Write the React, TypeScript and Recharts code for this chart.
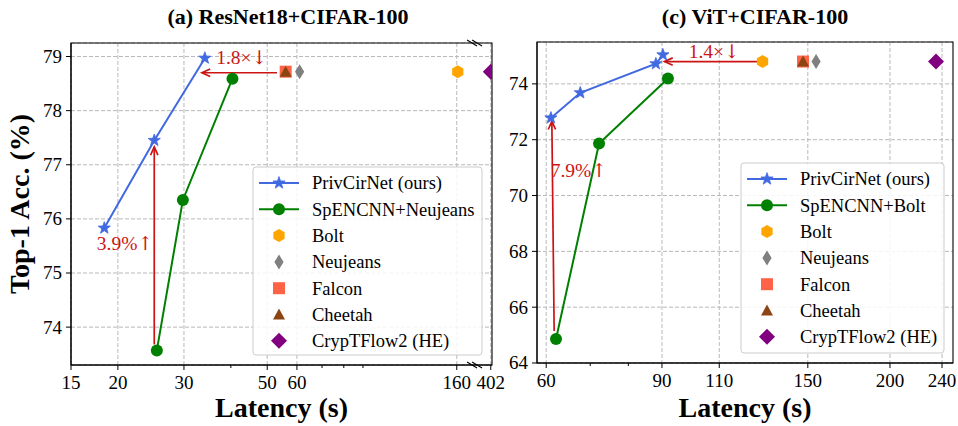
import React from 'react'
import {
  ScatterChart,
  Scatter,
  XAxis,
  YAxis,
  CartesianGrid,
  ReferenceLine,
  ReferenceDot,
  ReferenceArea
} from 'recharts'

const FONT = '"Liberation Serif", "DejaVu Serif", "Times New Roman", serif'
const RED = '#cc1414'
const BLUE = '#4169E1'
const GREEN = '#008000'

// (a) ResNet18 + CIFAR-100
const resnetOursLat = [18.4, 25.0, 34.1]
const resnetOursAcc = [75.83, 77.45, 78.97]
const resnetSpenLat = [25.4, 29.8, 40.4]
const resnetSpenAcc = [73.57, 76.35, 78.59]
// order: Bolt, Neujeans, Falcon, Cheetah, CrypTFlow2 (HE)
const resnetBaseLat = [161, 61, 56, 56, 402]
const resnetBaseAcc = [78.72, 78.72, 78.72, 78.72, 78.72]
const resnetXTicks = [15, 20, 30, 50, 60, 160, 402]
const resnetXMinor = [40, 70, 80, 90]
const resnetYTicks = [74, 75, 76, 77, 78, 79]

// (c) ViT + CIFAR-100
const vitOursLat = [61.0, 67.6, 88.1, 90.3]
const vitOursAcc = [72.78, 73.68, 74.72, 75.04]
const vitSpenLat = [62.1, 72.2, 91.9]
const vitSpenAcc = [64.86, 71.86, 74.19]
const vitBaseLat = [128, 154.4, 147.5, 147.5, 235]
const vitBaseAcc = [74.8, 74.8, 74.8, 74.8, 74.8]
const vitXTicks = [60, 90, 110, 150, 200, 240]
const vitXMinor = [70, 80]
const vitYTicks = [64, 66, 68, 70, 72, 74]

const baseNames = ['Bolt', 'Neujeans', 'Falcon', 'Cheetah', 'CrypTFlow2 (HE)']
const baseColors = ['#FFA500', '#808080', '#FF6347', '#8B4513', '#800080']
const baseMarkers = ['hexagon', 'thinDiamond', 'square', 'triangle', 'diamond']

// annotations (data coordinates)
const resnetArrows = [
  { from: [53.1, 78.7], to: [33.5, 78.7] },
  { from: [25.0, 73.68], to: [25.0, 77.33] }
]
const resnetNotes = [
  { at: [42.8, 78.98], text: '1.8×', arrow: '↓' },
  { at: [20.9, 75.56], text: '3.9%', arrow: '↑' }
]
const vitArrows = [
  { from: [126.2, 74.8], to: [90.8, 74.8] },
  { from: [61.7, 65.15], to: [61.2, 72.66] }
]
const vitNotes = [
  { at: [108.1, 75.17], text: '1.4×', arrow: '↓' },
  { at: [67.3, 70.92], text: '7.9%', arrow: '↑' }
]

// broken log axis for the ResNet panel
const BREAK_LO = 179
const BREAK_HI = 365
const resnetX = (v: number) =>
  v <= BREAK_LO ? Math.log10(v) : Math.log10(BREAK_LO) + Math.log10(v / BREAK_HI)
const vitX = (v: number) => Math.log10(v)

function marker(kind: string, cx: number, cy: number, color: string) {
  const poly = (pts: number[][]) => pts.map((p) => `${cx + p[0]},${cy + p[1]}`).join(' ')
  switch (kind) {
    case 'star': {
      const pts: number[][] = []
      for (let i = 0; i < 10; i++) {
        const r = i % 2 === 0 ? 6.4 : 2.6
        const a = -Math.PI / 2 + (i * Math.PI) / 5
        pts.push([r * Math.cos(a), r * Math.sin(a)])
      }
      return <polygon points={poly(pts)} fill={color} stroke={color} strokeWidth={0.8} />
    }
    case 'circle':
      return <circle cx={cx} cy={cy} r={6} fill={color} />
    case 'hexagon': {
      const pts: number[][] = []
      for (let i = 0; i < 6; i++) {
        const a = -Math.PI / 2 + (i * Math.PI) / 3
        pts.push([6.5 * Math.cos(a), 6.5 * Math.sin(a)])
      }
      return <polygon points={poly(pts)} fill={color} />
    }
    case 'thinDiamond':
      return <polygon points={poly([[0, -7.5], [4.6, 0], [0, 7.5], [-4.6, 0]])} fill={color} />
    case 'square':
      return <rect x={cx - 6} y={cy - 6} width={12} height={12} fill={color} />
    case 'triangle':
      return <polygon points={poly([[0, -6], [6, 5], [-6, 5]])} fill={color} />
    case 'diamond':
      return <polygon points={poly([[0, -8], [8, 0], [0, 8], [-8, 0]])} fill={color} />
    default:
      return <circle cx={cx} cy={cy} r={5} fill={color} />
  }
}

const ArrowShape = (props: any) => {
  const { x1, y1, x2, y2 } = props
  const ang = Math.atan2(y2 - y1, x2 - x1)
  const len = 9
  const spread = 0.42
  const ax = x2 - len * Math.cos(ang - spread)
  const ay = y2 - len * Math.sin(ang - spread)
  const bx = x2 - len * Math.cos(ang + spread)
  const by = y2 - len * Math.sin(ang + spread)
  return (
    <g>
      <line x1={x1} y1={y1} x2={x2} y2={y2} stroke={RED} strokeWidth={1.7} />
      <path d={`M${ax},${ay}L${x2},${y2}L${bx},${by}`} fill="none" stroke={RED} strokeWidth={1.7} />
    </g>
  )
}

const BreakMark = (props: any) => {
  const { cx, cy } = props
  return (
    <g stroke="#000" strokeWidth={1.1}>
      <line x1={cx - 8} y1={cy - 3} x2={cx + 2} y2={cy + 3} />
      <line x1={cx - 3} y1={cy - 3} x2={cx + 7} y2={cy + 3} />
    </g>
  )
}

interface PanelSpec {
  width: number
  margin: { top: number; right: number; bottom: number; left: number }
  toX: (v: number) => number
  xDomain: number[]
  yDomain: number[]
  xTicks: number[]
  xMinor: number[]
  yTicks: number[]
  oursLat: number[]
  oursAcc: number[]
  spenLat: number[]
  spenAcc: number[]
  baseLat: number[]
  baseAcc: number[]
  arrows: { from: number[]; to: number[] }[]
  notes: { at: number[]; text: string; arrow: string }[]
  breakAt?: number
}

function Panel({ spec }: { spec: PanelSpec }) {
  const { toX } = spec
  const majorU = spec.xTicks.map(toX)
  const allU = [...majorU, ...spec.xMinor.map(toX)].sort((a, b) => a - b)
  const xd = [toX(spec.xDomain[0]), toX(spec.xDomain[1])]
  const yd = spec.yDomain

  const ours = spec.oursLat.map((v, i) => ({ x: toX(v), y: spec.oursAcc[i] }))
  const spen = spec.spenLat.map((v, i) => ({ x: toX(v), y: spec.spenAcc[i] }))

  const renderXTick = (props: any) => {
    const { x, y, payload } = props
    const i = majorU.findIndex((m) => Math.abs(m - payload.value) < 1e-9)
    const major = i >= 0
    return (
      <g>
        <line x1={x} x2={x} y1={y} y2={y + (major ? 5 : 3)} stroke="#000" strokeWidth={1} />
        {major && (
          <text x={x} y={y + 24} textAnchor="middle" fontSize={19} fontFamily={FONT} fill="#000">
            {spec.xTicks[i]}
          </text>
        )}
      </g>
    )
  }

  const renderYTick = (props: any) => {
    const { x, y, payload } = props
    return (
      <g>
        <line x1={x} x2={x - 5} y1={y} y2={y} stroke="#000" strokeWidth={1} />
        <text x={x - 9} y={y} dy="0.34em" textAnchor="end" fontSize={19} fontFamily={FONT} fill="#000">
          {payload.value}
        </text>
      </g>
    )
  }

  return (
    <ScatterChart width={spec.width} height={426} margin={spec.margin} style={{ overflow: 'visible' }}>
      <CartesianGrid stroke="#b8b8b8" strokeDasharray="4 2" verticalValues={majorU} />
      <XAxis
        type="number"
        dataKey="x"
        domain={xd}
        ticks={allU}
        interval={0}
        allowDataOverflow
        height={30}
        tickSize={0}
        tickMargin={0}
        tickLine={false}
        tick={renderXTick}
        axisLine={{ stroke: '#000' }}
      />
      <YAxis
        type="number"
        dataKey="y"
        domain={yd}
        ticks={spec.yTicks}
        interval={0}
        allowDataOverflow
        width={50}
        tickSize={0}
        tickMargin={0}
        tickLine={false}
        tick={renderYTick}
        axisLine={{ stroke: '#000' }}
      />
      <Scatter
        data={ours}
        fill={BLUE}
        line={{ stroke: BLUE, strokeWidth: 2 }}
        shape={(p: any) => marker('star', p.cx, p.cy, BLUE)}
        isAnimationActive={false}
      />
      <Scatter
        data={spen}
        fill={GREEN}
        line={{ stroke: GREEN, strokeWidth: 2 }}
        shape={(p: any) => marker('circle', p.cx, p.cy, GREEN)}
        isAnimationActive={false}
      />
      {spec.baseLat.map((v, i) => (
        <Scatter
          key={baseNames[i]}
          data={[{ x: toX(v), y: spec.baseAcc[i] }]}
          fill={baseColors[i]}
          shape={(p: any) => marker(baseMarkers[i], p.cx, p.cy, baseColors[i])}
          isAnimationActive={false}
        />
      ))}
      {spec.arrows.map((a, i) => (
        <ReferenceLine
          key={'a' + i}
          segment={[
            { x: toX(a.from[0]), y: a.from[1] },
            { x: toX(a.to[0]), y: a.to[1] }
          ]}
          ifOverflow="visible"
          shape={ArrowShape}
        />
      ))}
      {spec.notes.map((n, i) => (
        <ReferenceDot
          key={'n' + i}
          x={toX(n.at[0])}
          y={n.at[1]}
          r={0}
          ifOverflow="visible"
          shape={(p: any) => (
            <text
              x={p.cx}
              y={p.cy}
              dy="0.35em"
              textAnchor="middle"
              fontSize={19.5}
              fontFamily={FONT}
              fill={RED}
            >
              {n.text}
              <tspan fontFamily='"DejaVu Serif", serif' fontSize={19}>
                {n.arrow}
              </tspan>
            </text>
          )}
        />
      ))}
      <ReferenceArea
        x1={xd[0]}
        x2={xd[1]}
        y1={yd[0]}
        y2={yd[1]}
        fill="none"
        fillOpacity={0}
        stroke="#000"
        strokeWidth={1.1}
        ifOverflow="visible"
      />
      {spec.breakAt !== undefined && (
        <ReferenceDot x={spec.breakAt} y={yd[1]} r={0} ifOverflow="visible" shape={BreakMark} />
      )}
      {spec.breakAt !== undefined && (
        <ReferenceDot x={spec.breakAt} y={yd[0]} r={0} ifOverflow="visible" shape={BreakMark} />
      )}
    </ScatterChart>
  )
}

const resnetSpec: PanelSpec = {
  width: 520,
  margin: { top: 43, right: 28, bottom: 31, left: 21 },
  toX: resnetX,
  xDomain: [15, 405],
  yDomain: [73.3, 79.25],
  xTicks: resnetXTicks,
  xMinor: resnetXMinor,
  yTicks: resnetYTicks,
  oursLat: resnetOursLat,
  oursAcc: resnetOursAcc,
  spenLat: resnetSpenLat,
  spenAcc: resnetSpenAcc,
  baseLat: resnetBaseLat,
  baseAcc: resnetBaseAcc,
  arrows: resnetArrows,
  notes: resnetNotes,
  breakAt: Math.log10(BREAK_LO)
}

const vitSpec: PanelSpec = {
  width: 478,
  margin: { top: 42, right: 5, bottom: 33, left: 7 },
  toX: vitX,
  xDomain: [58.1, 249.4],
  yDomain: [64, 75.5],
  xTicks: vitXTicks,
  xMinor: vitXMinor,
  yTicks: vitYTicks,
  oursLat: vitOursLat,
  oursAcc: vitOursAcc,
  spenLat: vitSpenLat,
  spenAcc: vitSpenAcc,
  baseLat: vitBaseLat,
  baseAcc: vitBaseAcc,
  arrows: vitArrows,
  notes: vitNotes
}

function LegendBox({ x, y, w, h, second }: { x: number; y: number; w: number; h: number; second: string }) {
  const labels = ['PrivCirNet (ours)', second, ...baseNames]
  const first = y + 16
  const step = 26.3
  return (
    <g>
      <rect x={x} y={y} width={w} height={h} rx={3} fill="#fff" fillOpacity={0.85} stroke="#cccccc" strokeWidth={1} />
      {labels.map((label, i) => {
        const cy = first + i * step
        const mx = x + 26
        let icon
        if (i === 0) {
          icon = (
            <g>
              <line x1={x + 6} x2={x + 46} y1={cy} y2={cy} stroke={BLUE} strokeWidth={2} />
              {marker('star', mx, cy, BLUE)}
            </g>
          )
        } else if (i === 1) {
          icon = (
            <g>
              <line x1={x + 6} x2={x + 46} y1={cy} y2={cy} stroke={GREEN} strokeWidth={2} />
              {marker('circle', mx, cy, GREEN)}
            </g>
          )
        } else {
          icon = marker(baseMarkers[i - 2], mx, cy, baseColors[i - 2])
        }
        return (
          <g key={label}>
            {icon}
            <text x={x + 59} y={cy} dy="0.35em" fontSize={18.5} fontFamily={FONT} fill="#000">
              {label}
            </text>
          </g>
        )
      })}
    </g>
  )
}

export default function App() {
  return (
    <div
      style={{
        position: 'absolute',
        left: 0,
        top: 0,
        width: 958,
        height: 426,
        background: '#fff',
        overflow: 'hidden'
      }}
    >
      <div style={{ position: 'absolute', left: 0, top: 0 }}>
        <Panel spec={resnetSpec} />
      </div>
      <div style={{ position: 'absolute', left: 480, top: 0 }}>
        <Panel spec={vitSpec} />
      </div>
      <svg
        width={958}
        height={426}
        style={{ position: 'absolute', left: 0, top: 0, pointerEvents: 'none' }}
      >
        <text x={288} y={24} textAnchor="middle" fontSize={22} fontWeight="bold" fontFamily={FONT}>
          (a) ResNet18+CIFAR-100
        </text>
        <text x={755} y={24} textAnchor="middle" fontSize={22} fontWeight="bold" fontFamily={FONT}>
          (c) ViT+CIFAR-100
        </text>
        <text
          transform="translate(29,204) rotate(-90)"
          textAnchor="middle"
          fontSize={28}
          fontWeight="bold"
          fontFamily={FONT}
        >
          Top-1 Acc. (%)
        </text>
        <text x={281.5} y={417} textAnchor="middle" fontSize={28} fontWeight="bold" fontFamily={FONT}>
          Latency (s)
        </text>
        <text x={745} y={417} textAnchor="middle" fontSize={28} fontWeight="bold" fontFamily={FONT}>
          Latency (s)
        </text>
        <LegendBox x={253} y={167} w={229} h={188} second="SpENCNN+Neujeans" />
        <LegendBox x={741} y={163} w={203} h={190} second="SpENCNN+Bolt" />
      </svg>
    </div>
  )
}
